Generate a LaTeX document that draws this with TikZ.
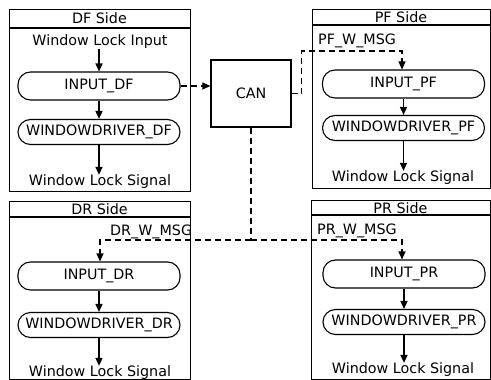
\documentclass[tikz,border=0pt]{standalone}
\usepackage{fontspec}
\setmainfont{DejaVu Sans}
\usetikzlibrary{arrows.meta}
\begin{document}
\begin{tikzpicture}[x=1pt,y=-1pt,
  panel/.style={draw, line width=1.2pt, inner sep=0pt, anchor=north west},
  proc/.style={draw, line width=1.1pt, rounded corners=12.5pt, minimum width=162pt, inner sep=0pt, font=\fontsize{14.3}{16}\selectfont},
  lbl/.style={inner sep=0pt, font=\fontsize{14.3}{16}\selectfont},
  flow/.style={line width=1.5pt, -{Triangle[length=8pt,width=7pt]}},
  msg/.style={line width=1.2pt, dash pattern=on 6pt off 4pt},
  msgarrow/.style={msg, -{Triangle[length=8pt,width=7pt]}},
]
\useasboundingbox (0,0) rectangle (491,380);

% ---------- DF side ----------
\node[panel, minimum width=181pt, minimum height=182pt] (dfp) at (9,9) {};
\draw[line width=1.2pt] (9,28) -- (190,28);
\node[lbl] (dft) at (99.5,18) {DF Side};
\node[lbl] (dfin) at (100,42) {Window Lock Input};
\node[proc, minimum height=28pt] (dfi) at (99,86) {INPUT\_DF};
\node[proc, minimum height=25pt] (dfw) at (99,132) {WINDOWDRIVER\_DF};
\node[lbl] (dfo) at (100,182) {Window Lock Signal};
\draw[flow] (dfi.north |- dfin.south) -- (dfi.north);
\draw[flow] (dfi) -- (dfw);
\draw[flow] (dfw.south) -- (dfw.south |- dfo.north);

% ---------- CAN ----------
\node[draw, line width=1.2pt, minimum width=80pt, minimum height=67pt, lbl] (can) at (251,93.5) {CAN};
\draw[msgarrow] (dfi.east) -- (dfi.east -| can.west);

% ---------- PF side ----------
\node[panel, minimum width=178pt, minimum height=179pt] (pfp) at (312,9) {};
\draw[line width=1.2pt] (312,25) -- (490,25);
\node[lbl] (pft) at (401,17) {PF Side};
\node[lbl, anchor=west] (pfm) at (318,41) {PF\_W\_MSG};
\node[proc, minimum height=28pt] (pfi) at (403.5,84) {INPUT\_PF};
\node[proc, minimum height=25pt] (pfw) at (403.5,128) {WINDOWDRIVER\_PF};
\node[lbl] (pfo) at (403,178) {Window Lock Signal};
\draw[flow] (pfi) -- (pfw);
\draw[flow] (pfw.south) -- (pfw.south |- pfo.north);
\coordinate (pfbend) at (402,51);
\draw[msgarrow] (can.east) -- ++(10,0) |- (pfbend) -- (pfbend |- pfi.north);

% ---------- DR side ----------
\node[panel, minimum width=181pt, minimum height=178pt] (drp) at (9,201) {};
\draw[line width=1.2pt] (9,217) -- (190,217);
\node[lbl] (drt) at (99.5,209) {DR Side};
\node[lbl, anchor=west] (drm) at (110,232) {DR\_W\_MSG};
\node[proc, minimum height=28pt] (dri) at (99,276) {INPUT\_DR};
\node[proc, minimum height=25pt] (drw) at (99,325) {WINDOWDRIVER\_DR};
\node[lbl] (dro) at (100,373) {Window Lock Signal};
\draw[flow] (dri) -- (drw);
\draw[flow] (drw.south) -- (drw.south |- dro.north);

% ---------- PR side ----------
\node[panel, minimum width=179pt, minimum height=179pt] (prp) at (311,200) {};
\draw[line width=1.2pt] (311,215) -- (490,215);
\node[lbl] (prt) at (400.5,208) {PR Side};
\node[lbl, anchor=west] (prm) at (317,231) {PR\_W\_MSG};
\node[proc, minimum height=28pt] (pri) at (404,274) {INPUT\_PR};
\node[proc, minimum height=25pt] (prw) at (404,322) {WINDOWDRIVER\_PR};
\node[lbl] (pro) at (403,370) {Window Lock Signal};
\draw[flow] (pri) -- (prw);
\draw[flow] (prw.south) -- (prw.south |- pro.north);

% ---------- CAN bus to DR / PR ----------
\coordinate (jn) at (251,240);
\coordinate (drb) at (100,240);
\coordinate (prb) at (402,240);
\draw[msg] (can.south) -- (jn);
\draw[msgarrow] (jn) -- (drb) -- (drb |- dri.north);
\draw[msgarrow] (jn) -- (prb) -- (prb |- pri.north);
\end{tikzpicture}
\end{document}
